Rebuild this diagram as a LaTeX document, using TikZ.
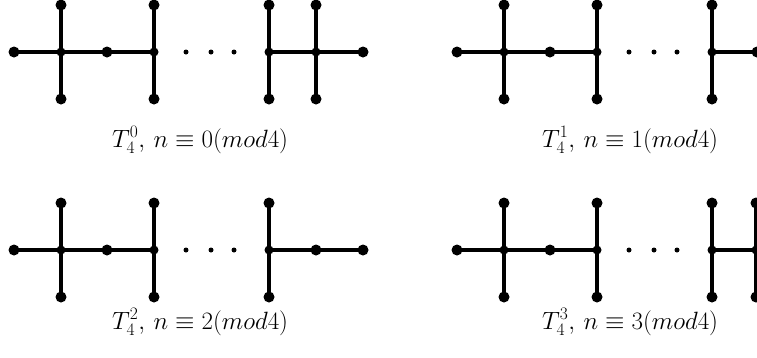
\documentclass[tikz,border=0pt]{standalone}
\usepackage{fix-cm}
\usetikzlibrary{backgrounds}
\tikzset{
  leaf/.style={circle, fill=black, inner sep=0pt, minimum size=11pt},
  hub/.style={circle, fill=black, inner sep=0pt, minimum size=9pt},
  ell/.style={circle, fill=black, inner sep=0pt, minimum size=5pt},
  edge/.style={line width=3.4pt, black},
  lab/.style={anchor=base west, inner sep=0pt, font=\fontsize{25}{30}\selectfont}
}
% left part shared by all panels: prefix, x offset, y of the horizontal line
\newcommand{\LeftPart}[3]{%
  \node[leaf] (#1L) at ({#2+14},{#3}) {};
  \node[hub] (#1a) at ({#2+61},{#3}) {};
  \node[leaf] (#1at) at ({#2+61},{#3-47}) {};
  \node[leaf] (#1ab) at ({#2+61},{#3+47}) {};
  \node[leaf] (#1m) at ({#2+107},{#3}) {};
  \node[hub] (#1b) at ({#2+154},{#3}) {};
  \node[leaf] (#1bt) at ({#2+154},{#3-47}) {};
  \node[leaf] (#1bb) at ({#2+154},{#3+47}) {};
  \node[ell] (#1d1) at ({#2+186},{#3}) {};
  \node[ell] (#1d2) at ({#2+211},{#3}) {};
  \node[ell] (#1d3) at ({#2+234},{#3}) {};
  \node[hub] (#1c) at ({#2+269},{#3}) {};
  \node[leaf] (#1ct) at ({#2+269},{#3-47}) {};
  \node[leaf] (#1cb) at ({#2+269},{#3+47}) {};
  \begin{pgfonlayer}{background}
  \draw[edge] (#1L.center) -- (#1a.center) -- (#1m.center) -- (#1b.center);
  \draw[edge] (#1at.center) -- (#1a.center) -- (#1ab.center);
  \draw[edge] (#1bt.center) -- (#1b.center) -- (#1bb.center);
  \draw[edge] (#1ct.center) -- (#1c.center) -- (#1cb.center);
  \end{pgfonlayer}
}
\begin{document}
\begin{tikzpicture}[x=1pt,y=-1pt]
\clip (0,0) rectangle (757,357);

% T_4^0
\LeftPart{p}{0}{52}
\node[hub] (pe) at (316,52) {};
\node[leaf] (pet) at (316,5) {};
\node[leaf] (peb) at (316,99) {};
\node[leaf] (pR) at (363,52) {};
\begin{pgfonlayer}{background}
\draw[edge] (pc.center) -- (pe.center) -- (pR.center);
\draw[edge] (pet.center) -- (pe.center) -- (peb.center);
\end{pgfonlayer}
\node[lab] (labp) at (112,147) {$T_4^0,\, n\equiv 0(mod4)$};

% T_4^1
\LeftPart{q}{443}{52}
\node[leaf] (qe) at (757,52) {};
\begin{pgfonlayer}{background}
\draw[edge] (qc.center) -- (qe.center);
\end{pgfonlayer}
\node[lab] (labq) at (542,147) {$T_4^1,\, n\equiv 1(mod4)$};

% T_4^2
\LeftPart{r}{0}{250}
\node[leaf] (re) at (316,250) {};
\node[leaf] (rR) at (363,250) {};
\begin{pgfonlayer}{background}
\draw[edge] (rc.center) -- (re.center) -- (rR.center);
\end{pgfonlayer}
\node[lab] (labr) at (112,329) {$T_4^2,\, n\equiv 2(mod4)$};

% T_4^3
\LeftPart{s}{443}{250}
\node[hub] (se) at (756,250) {};
\node[leaf] (set) at (756,203) {};
\node[leaf] (seb) at (756,297) {};
\begin{pgfonlayer}{background}
\draw[edge] (sc.center) -- (se.center);
\draw[edge] (set.center) -- (se.center) -- (seb.center);
\end{pgfonlayer}
\node[lab] (labs) at (542,329) {$T_4^3,\, n\equiv 3(mod4)$};
\end{tikzpicture}
\end{document}
